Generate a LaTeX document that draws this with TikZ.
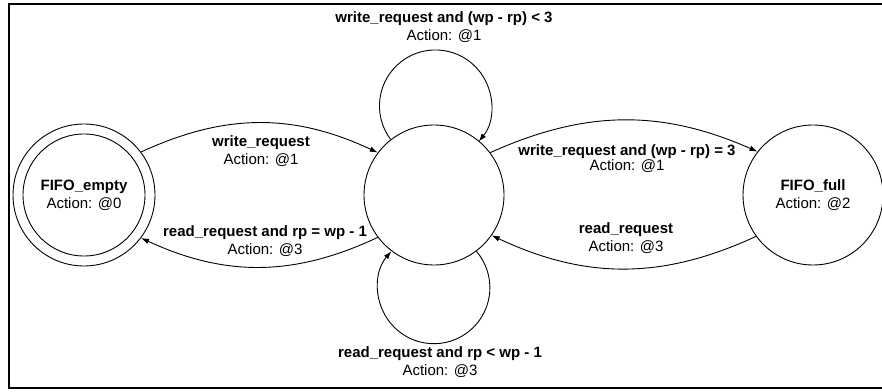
\documentclass[tikz,border=0pt]{standalone}
\usepackage{fontspec}
\setmainfont{Liberation Sans}
\usetikzlibrary{arrows.meta}
\begin{document}
\begin{tikzpicture}[x=1pt,y=1pt,
  state/.style={circle,draw,line width=0.9pt,minimum size=140pt,inner sep=0pt,align=center,font=\fontsize{15}{18}\selectfont},
  lbl/.style={align=center,font=\fontsize{15}{18}\selectfont,inner sep=0pt},
  tr/.style={line width=0.9pt,-{Latex[length=8pt,width=5.5pt]}}]
\useasboundingbox (0,0) rectangle (882,391);
\draw[line width=2.5pt] (882,387) -- (9,387) -- (9,3) -- (882,3);
% states
\node[state,minimum size=142pt] (emptyo) at (84,196) {};
\node[state,minimum size=122pt] (empty) at (84,196) {\textbf{FIFO\_empty}\\Action: @0};
\node[state] (mid) at (434,196) {};
\node[state] (full) at (813,196) {\textbf{FIFO\_full}\\Action: @2};
% transitions
\draw[tr] (emptyo.37) to[bend left=25] (mid.143);
\draw[tr] (mid.217) to[bend left=25] (emptyo.323);
\draw[tr] (mid.37) to[bend left=24] (full.142);
\draw[tr] (full.216) to[bend left=25] (mid.325);
\draw[tr] (mid.128) arc[start angle=216.8,end angle=-39.4,radius=56];
\draw[tr] (mid.307.4) arc[start angle=40.6,end angle=-220.6,radius=56];
% labels
\node[lbl] (l1) at (444,364) {\textbf{write\_request and (wp - rp) < 3}\\Action: @1};
\node[lbl] (l2) at (440,29) {\textbf{read\_request and rp < wp - 1}\\Action: @3};
\node[lbl] (l3) at (261,240) {\textbf{write\_request}\\Action: @1};
\node[lbl] (l4) at (265,150) {\textbf{read\_request and rp = wp - 1}\\Action: @3};
\node[lbl] (l5) at (627,232) {\textbf{write\_request and (wp - rp) = 3}\\[-3pt]Action: @1};
\node[lbl] (l6) at (626,153) {\textbf{read\_request}\\Action: @3};
\end{tikzpicture}
\end{document}
